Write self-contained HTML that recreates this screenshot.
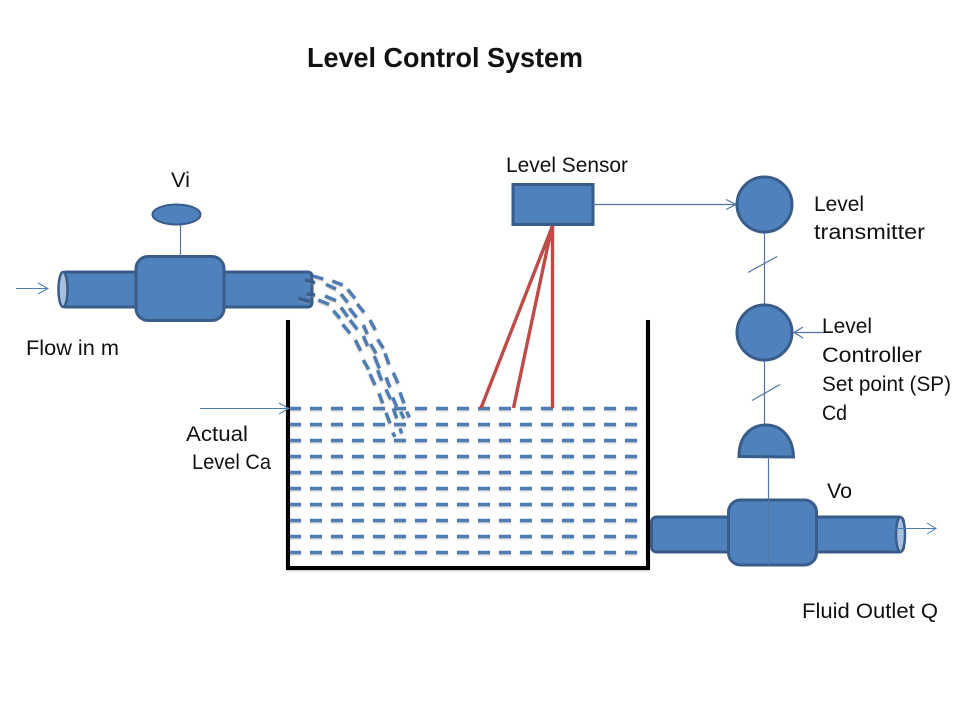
<!DOCTYPE html>
<html>
<head>
<meta charset="utf-8">
<style>
html,body{margin:0;padding:0;background:#fff;width:960px;height:720px;overflow:hidden}
svg{display:block}
text{font-family:"Liberation Sans",sans-serif;font-size:21px;fill:#111}
.shape{fill:#4f81bd;stroke:#385d8a;stroke-width:3}
.thin{fill:none;stroke:#4a7ebb;stroke-width:1}
.dark{fill:none;stroke:#4f76a6;stroke-width:1.2}
.red{fill:none;stroke:#be4b48;stroke-width:3.4}
.water{fill:none;stroke:#4f7cb3;stroke-width:3.6;stroke-dasharray:12 9}
.fall{fill:none;stroke:#4f7cb3;stroke-width:10.5}
</style>
</head>
<body>
<svg width="960" height="720" viewBox="0 0 960 720" xmlns="http://www.w3.org/2000/svg">
<defs>
<filter id="sh" x="-5%" y="-5%" width="110%" height="110%">
<feDropShadow dx="0" dy="1.2" stdDeviation="0.8" flood-color="#999" flood-opacity=".5"/>
</filter>
</defs>
<rect width="960" height="720" fill="#fff"/>

<text x="307" y="67" style="font-size:28px;font-weight:bold" textLength="276" lengthAdjust="spacingAndGlyphs">Level Control System</text>

<!-- Inlet pipe -->
<rect class="shape" x="62" y="272" width="250" height="35" rx="4"/>
<ellipse cx="63" cy="289.500" rx="4.500" ry="17.500" fill="#a7c0de" stroke="#385d8a" stroke-width="2.500"/>
<rect class="shape" x="136" y="256.500" width="88" height="64" rx="12"/>
<ellipse class="shape" style="stroke-width:2" cx="176.500" cy="214.500" rx="24" ry="10"/>
<line class="dark" x1="180.500" y1="225" x2="180.500" y2="256"/>
<path class="thin" d="M16 288.500H48M38 283l10 5.500-10 5.500"/>

<!-- Tank and water -->
<g filter="url(#sh)">
<path class="water" d="M289 408.500H648M289 424.500H648M289 440.500H648M289 456.500H648M289 472.500H648M289 488.500H648M289 504.500H648M289 520.500H648M289 536.500H648M289 552.500H648"/>
<g transform="translate(280 270) scale(0.3333)">
<path class="fall" d="M100 18L130 27M157 33L188 45M203 58L225 85M232 102L252 127M270 150L286 180M293 208L310 235M315 250L327 283M340 308L354 340M360 367L372 400M380 425L388 442"/>
<path class="fall" d="M138 43L168 57M183 72L203 97M208 115L230 142M250 165L262 192M250 198L263 228M272 222L288 250M283 258L298 295M293 300L305 332M318 322L330 352M318 358L332 388M338 382L350 410M340 415L350 445M362 425L372 445"/>
<path class="fall" d="M135 78L168 92M115 90L147 103M160 122L180 145M183 112L203 140M188 163L210 190M210 150L232 178M226 210L242 242M250 270L266 298M270 312L285 345M297 370L308 400M318 428L330 460M338 488L345 500M360 475L365 490"/>
<path class="fall" style="stroke:#385d8a" d="M75 30L105 38M80 72L105 75M55 85L90 95"/>
</g>
</g>
<path d="M288 320V568H648V320" fill="none" stroke="#000" stroke-width="4" filter="url(#sh)"/>
<path class="thin" d="M200 408.500H289M279 403l10 5.500-10 5.500"/>

<!-- Sensor -->
<rect class="shape" x="513" y="184.500" width="80" height="40"/>
<path class="red" d="M552.500 226L481 408M552 226L513.500 408M552.500 226V408"/>
<path class="dark" d="M593 204.500H736M726 199.500l10 5-10 5"/>

<!-- Transmitter and controller -->
<line class="dark" x1="764.500" y1="232" x2="764.500" y2="304"/>
<line class="dark" x1="764.500" y1="360" x2="764.500" y2="425"/>
<circle class="shape" cx="764.500" cy="204.500" r="27.500"/>
<circle class="shape" cx="764.500" cy="332.500" r="27.500"/>
<line class="dark" x1="748" y1="272.500" x2="777" y2="256.500"/>
<line class="dark" x1="752" y1="400.500" x2="780" y2="384.500"/>
<path class="dark" d="M824 332.500H794M803 327l-9 5.500 9 5.500"/>

<!-- Outlet -->
<path class="shape" d="M739 456.500C739 436 751 425 766 425C782 425 793 438 793.500 457Z"/>
<rect class="shape" x="651.500" y="517" width="252" height="35" rx="5"/>
<ellipse cx="900.500" cy="534.500" rx="4.500" ry="17.500" fill="#a7c0de" stroke="#385d8a" stroke-width="2.500"/>
<rect class="shape" x="728.500" y="500" width="88" height="65" rx="12"/>
<line class="dark" x1="768.500" y1="457" x2="768.500" y2="565"/>
<path class="thin" d="M855 528.500H936M927 523l9 5.500-9 5.500"/>

<!-- Labels -->
<text x="171" y="187" textLength="19" lengthAdjust="spacingAndGlyphs">Vi</text>
<text x="506" y="172" textLength="122" lengthAdjust="spacingAndGlyphs">Level Sensor</text>
<text x="814" y="211" textLength="50" lengthAdjust="spacingAndGlyphs">Level</text>
<text x="814" y="239" textLength="111" lengthAdjust="spacingAndGlyphs">transmitter</text>
<text x="822" y="333" textLength="50" lengthAdjust="spacingAndGlyphs">Level</text>
<text x="822" y="362" textLength="100" lengthAdjust="spacingAndGlyphs">Controller</text>
<text x="822" y="391" textLength="129" lengthAdjust="spacingAndGlyphs">Set point (SP)</text>
<text x="822" y="420" textLength="25" lengthAdjust="spacingAndGlyphs">Cd</text>
<text x="827" y="498" textLength="25" lengthAdjust="spacingAndGlyphs">Vo</text>
<text x="802" y="618" textLength="136" lengthAdjust="spacingAndGlyphs">Fluid Outlet Q</text>
<text x="186" y="441" textLength="62" lengthAdjust="spacingAndGlyphs">Actual</text>
<text x="192" y="469" textLength="79" lengthAdjust="spacingAndGlyphs">Level Ca</text>
<text x="26" y="355" textLength="93" lengthAdjust="spacingAndGlyphs">Flow in m</text>
</svg>
</body>
</html>
